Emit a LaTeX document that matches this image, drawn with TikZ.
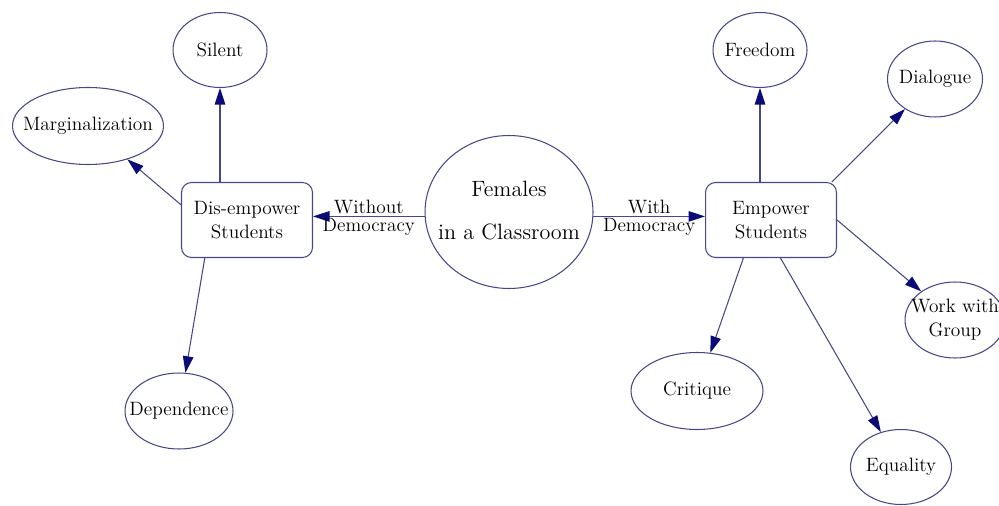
\documentclass[tikz,border=0pt]{standalone}
\usetikzlibrary{shapes.geometric,arrows.meta}
\definecolor{contorno}{RGB}{70,70,140}
\definecolor{flecha}{RGB}{10,10,120}
\newcommand{\centrado}[1]{\makebox[0pt]{#1}}

\begin{document}
\begin{tikzpicture}[x=0.02cm,y=-0.02cm,
        font=\fontsize{11}{13.5}\selectfont,
        ovalo/.style={ellipse,draw=contorno,line width=0.6pt,inner sep=0pt,
            minimum width=#1,minimum height=1.5cm},
        caja/.style={rectangle,rounded corners=0.2cm,draw=contorno,line width=0.6pt,
            minimum width=2.62cm,minimum height=1.5cm,align=center},
        flechita/.style={draw=contorno,line width=0.6pt,
            -{Triangle[length=0.33cm,width=0.21cm,color=flecha]}},
        etiqueta/.style={inner sep=1pt}]
        \useasboundingbox (0,0) rectangle (999,506);

        % ~~~~ Nodo central ~~~~%
        \node[ovalo=3.36cm, minimum height=3.06cm, font=\fontsize{12.6}{16}\selectfont] (alumnas) at (509,212)
            {\centrado{\begin{tabular}{@{}c@{}}Females\\[8.4pt]in a Classroom\end{tabular}}};

        % ~~~~ Lado sin democracia ~~~~%
        \node[caja] (desemp) at (247,220) {Dis-empower\\Students};
        \node[ovalo=1.88cm] (silencio) at (220,50) {\centrado{Silent}};
        \node[ovalo=3.02cm, minimum height=1.54cm] (margin) at (88,126) {\centrado{Marginalization}};
        \node[ovalo=2.16cm, minimum height=1.52cm] (depend) at (179,411) {\centrado{Dependence}};

        % ~~~~ Lado con democracia ~~~~%
        \node[caja] (emp) at (771,220) {Empower\\Students};
        \node[ovalo=1.88cm] (libertad) at (760,50) {\centrado{Freedom}};
        \node[ovalo=1.9cm, minimum height=1.52cm] (dialogo) at (935,79) {\centrado{Dialogue}};
        \node[ovalo=2cm, minimum height=1.52cm] (grupo) at (955,320)
            {\centrado{\begin{tabular}{@{}c@{}}Work with\\Group\end{tabular}}};
        \node[ovalo=2.64cm, minimum height=1.54cm] (critica) at (697,391) {\centrado{Critique}};
        \node[ovalo=2.02cm] (igualdad) at (901,467) {\centrado{Equality}};

        % ~~~~~ Flechas desde el centro ~~~~%
        \draw[flechita] (alumnas.183) -- (alumnas.183 -| desemp.east)
            node[etiqueta, midway, above] (sin) {Without}
            node[etiqueta, midway, below] (sindem) {Democracy};
        \draw[flechita] (alumnas.-3) -- (alumnas.-3 -| emp.west)
            node[etiqueta, midway, above] (con) {With}
            node[etiqueta, midway, below] (condem) {Democracy};

        % ~~~~~ Flechas de cada caja ~~~~%
        \draw[flechita] (silencio.south |- desemp.north) -- (silencio);
        \draw[flechita] (desemp.167) -- (margin);
        \draw[flechita] (desemp.222) -- (depend);
        \draw[flechita] (libertad.south |- emp.north) -- (libertad);
        \draw[flechita] (emp.32) -- (dialogo);
        \draw[flechita] (emp.east) -- (grupo);
        \draw[flechita] (emp.234) -- (critica);
        \draw[flechita] (emp.284) -- (igualdad);
    \end{tikzpicture}
\end{document}
